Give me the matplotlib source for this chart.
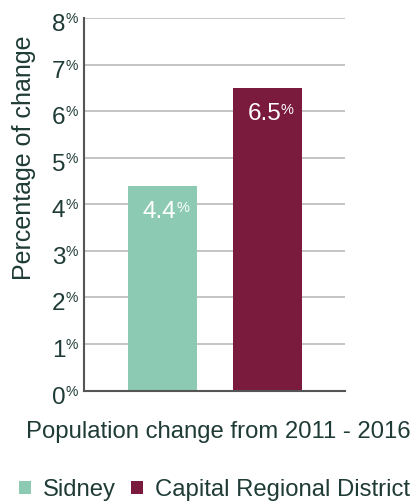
import matplotlib
matplotlib.use("Agg")
import matplotlib.pyplot as plt
from matplotlib.patches import Patch

# population change 2011 - 2016, percent
regions = ["Sidney", "Capital Regional District"]
changes = [4.4, 6.5]
colors = ["#8dcab4", "#7a1a3c"]
y_ticks = [0, 1, 2, 3, 4, 5, 6, 7, 8]

text_color = "#1f3b36"
plt.rcParams["font.family"] = ["Liberation Sans", "DejaVu Sans"]

W, H = 416, 503
fig = plt.figure(figsize=(W / 100, H / 100), dpi=100)
ax = fig.add_axes([83.5 / W, 1 - 390.5 / H, (345 - 83.5) / W, (390.5 - 18.3) / H])

xs = list(range(len(regions)))
ax.bar(xs, changes, width=0.66, color=colors, zorder=2)

ax.set_xlim(-0.756, 1.746)
ax.set_ylim(0, 8)
ax.set_yticks(y_ticks)
ax.set_yticklabels([])
ax.set_xticks([])
ax.tick_params(axis="y", length=0)
ax.grid(axis="y", color="#c4c4c4", linewidth=1.4)
ax.set_axisbelow(True)

for side in ["top", "right"]:
    ax.spines[side].set_visible(False)
for side in ["left", "bottom"]:
    ax.spines[side].set_color("#555555")
    ax.spines[side].set_linewidth(1.5)

# tick labels: big number with a small raised percent sign
ytrans = ax.get_yaxis_transform()
for t in y_ticks:
    ax.annotate(str(t), xy=(0, t), xycoords=ytrans, xytext=(-18, -13),
                textcoords="offset pixels", ha="right", va="baseline",
                fontsize=17.5, color=text_color, annotation_clip=False)
    ax.annotate("%", xy=(0, t), xycoords=ytrans, xytext=(-18, -5),
                textcoords="offset pixels", ha="left", va="baseline",
                fontsize=10, color=text_color, annotation_clip=False)

# value labels inside the bars
for x, v in zip(xs, changes):
    ax.annotate(f"{v:.1f}", xy=(x, v), xytext=(14, -32),
                textcoords="offset pixels", ha="right", va="baseline",
                fontsize=17.5, color="white")
    ax.annotate("%", xy=(x, v), xytext=(13.5, -26),
                textcoords="offset pixels", ha="left", va="baseline",
                fontsize=10.5, color="white")

fig.text(24 / W, 1 - 157.5 / H, "Percentage of change", rotation=90,
         ha="center", va="center", fontsize=18, color=text_color)
fig.text(218.5 / W, 1 - 438 / H, "Population change from 2011 - 2016",
         ha="center", va="baseline", fontsize=17.2, color=text_color)

handles = [Patch(facecolor=c, label=r) for c, r in zip(colors, regions)]
leg = fig.legend(handles=handles, loc="center", bbox_to_anchor=(214.5 / W, 1 - 490 / H),
                 ncol=2, frameon=False, fontsize=17.2, handlelength=0.5,
                 handleheight=0.5, handletextpad=0.5, columnspacing=0.6,
                 borderpad=0, borderaxespad=0)
for txt in leg.get_texts():
    txt.set_color(text_color)

fig.savefig("out.png", dpi=100)
